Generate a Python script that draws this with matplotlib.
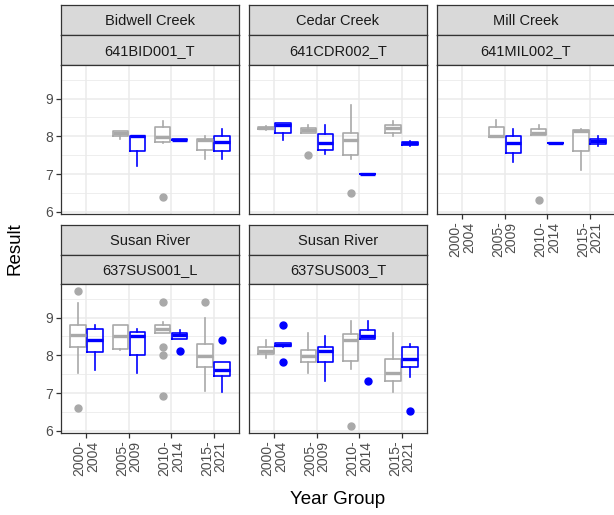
import matplotlib
matplotlib.use("Agg")
import matplotlib.pyplot as plt

plt.rcParams['font.family'] = ['Liberation Sans', 'DejaVu Sans']

year_groups = ['2000-\n2004', '2005-\n2009', '2010-\n2014', '2015-\n2021']
sites = ['Bidwell Creek', 'Cedar Creek', 'Mill Creek', 'Susan River', 'Susan River']
stations = ['641BID001_T', '641CDR002_T', '641MIL002_T', '637SUS001_L', '637SUS003_T']

# box stats per year group: (whislo, q1, med, q3, whishi); None = no samples
bid_grey = [None, (7.93, 8.0, 8.08, 8.13, 8.15), (7.82, 7.84, 7.98, 8.24, 8.4), (7.4, 7.64, 7.9, 7.93, 8.0)]
bid_grey_out = [[], [], [6.4], []]
bid_blue = [None, (7.22, 7.6, 8.0, 8.02, 8.02), (7.9, 7.9, 7.91, 7.92, 7.92), (7.4, 7.6, 7.84, 8.0, 8.2)]
bid_blue_out = [[], [], [], []]

cdr_grey = [(8.18, 8.19, 8.22, 8.25, 8.26), (8.1, 8.1, 8.16, 8.22, 8.29), (7.4, 7.5, 7.91, 8.09, 8.82), (8.02, 8.1, 8.21, 8.31, 8.4)]
cdr_grey_out = [[], [7.5], [6.5], []]
cdr_blue = [(7.91, 8.1, 8.31, 8.34, 8.34), (7.53, 7.64, 7.82, 8.06, 8.31), (7.0, 7.0, 7.0, 7.0, 7.0), (7.75, 7.77, 7.82, 7.86, 7.87)]
cdr_blue_out = [[], [], [], []]

mil_grey = [None, (7.97, 7.97, 8.0, 8.24, 8.42), (8.04, 8.04, 8.09, 8.2, 8.31), (7.11, 7.6, 8.15, 8.18, 8.2)]
mil_grey_out = [[], [], [6.3], []]
mil_blue = [None, (7.31, 7.56, 7.82, 8.02, 8.2), (7.82, 7.82, 7.82, 7.82, 7.82), (7.73, 7.8, 7.87, 7.93, 8.0)]
mil_blue_out = [[], [], [], []]

sus1_grey = [(7.52, 8.23, 8.55, 8.81, 9.39), (8.13, 8.18, 8.51, 8.81, 8.81), (8.6, 8.6, 8.7, 8.79, 8.88), (7.06, 7.7, 7.98, 8.31, 9.0)]
sus1_grey_out = [[9.71, 6.61], [], [9.4, 8.23, 8.0, 6.91], [9.4]]
sus1_blue = [(7.61, 8.1, 8.4, 8.7, 8.81), (7.52, 8.0, 8.51, 8.61, 8.7), (8.44, 8.44, 8.53, 8.6, 8.68), (7.02, 7.46, 7.61, 7.81, 7.81)]
sus1_blue_out = [[], [], [8.11], [8.4]]

sus3_grey = [(7.94, 8.04, 8.11, 8.22, 8.4), (7.52, 7.82, 7.98, 8.13, 8.6), (7.63, 7.85, 8.4, 8.57, 8.9), (7.04, 7.31, 7.52, 7.91, 8.6)]
sus3_grey_out = [[], [], [6.12], []]
sus3_blue = [(8.23, 8.24, 8.28, 8.32, 8.33), (7.32, 7.81, 8.11, 8.22, 8.51), (8.44, 8.44, 8.51, 8.66, 8.9), (7.43, 7.68, 7.91, 8.22, 8.29)]
sus3_blue_out = [[8.81, 7.81], [], [7.31], [6.52]]

panels = [
    (bid_grey, bid_grey_out, bid_blue, bid_blue_out),
    (cdr_grey, cdr_grey_out, cdr_blue, cdr_blue_out),
    (mil_grey, mil_grey_out, mil_blue, mil_blue_out),
    (sus1_grey, sus1_grey_out, sus1_blue, sus1_blue_out),
    (sus3_grey, sus3_grey_out, sus3_blue, sus3_blue_out),
]

GREY = '#A9A9A9'
BLUE = '#0000FF'
EDGE = '#333333'

# y range like ggplot: data range + 5%
allv = []
for p in panels:
    for stats in (p[0], p[2]):
        for s in stats:
            if s:
                allv += list(s)
    for outs in (p[1], p[3]):
        for o in outs:
            allv += o
lo, hi = min(allv), max(allv)
pad = (hi - lo) * 0.05
ylim = (lo - pad, hi + pad)

W, H = 614, 515
fig = plt.figure(figsize=(W / 100, H / 100), dpi=100)


def frac(x0, y0, w, h):
    return [x0 / W, 1 - (y0 + h) / H, w / W, h / H]


col_x = [61, 249, 437]
rows = [(5, 35, 65, 214), (225, 255, 284, 433)]  # strip top, strip mid, panel top, panel bottom
pw = 178


def draw_boxes(ax, stats, outs, offset, color):
    for i, s in enumerate(stats):
        if s is None:
            continue
        d = dict(whislo=s[0], q1=s[1], med=s[2], q3=s[3], whishi=s[4], fliers=outs[i])
        ax.bxp([d], positions=[i + 1 + offset], widths=0.36, showcaps=False,
               patch_artist=False, manage_ticks=False,
               boxprops=dict(color=color, lw=1.2),
               whiskerprops=dict(color=color, lw=1.2),
               medianprops=dict(color=color, lw=2.4, solid_capstyle='butt'),
               flierprops=dict(marker='o', markerfacecolor=color, markeredgecolor=color,
                               markersize=5, linestyle='none'))


for k, (grey, grey_out, blue, blue_out) in enumerate(panels):
    r, c = (0, k) if k < 3 else (1, k - 3)
    st, sm, pt, pb = rows[r]
    x0 = col_x[c]

    # strips
    for (yt, yb, label) in [(st, sm, sites[k]), (sm, pt, stations[k])]:
        sax = fig.add_axes(frac(x0, yt, pw, yb - yt))
        sax.set_facecolor('#D9D9D9')
        sax.set_xticks([])
        sax.set_yticks([])
        for sp in sax.spines.values():
            sp.set_color(EDGE)
            sp.set_linewidth(0.9)
        sax.text(0.5, 0.47, label, ha='center', va='center', fontsize=10.5,
                 color='#1A1A1A', transform=sax.transAxes)

    ax = fig.add_axes(frac(x0, pt, pw, pb - pt))
    ax.set_xlim(0.4, 4.6)
    ax.set_ylim(*ylim)
    ax.set_yticks([6, 7, 8, 9])
    ax.set_yticks([6.5, 7.5, 8.5, 9.5], minor=True)
    ax.set_xticks([1, 2, 3, 4])
    ax.grid(which='major', color='#EBEBEB', lw=1.1)
    ax.grid(which='minor', axis='y', color='#EBEBEB', lw=0.6)
    ax.set_axisbelow(True)
    for sp in ax.spines.values():
        sp.set_color(EDGE)
        sp.set_linewidth(0.9)

    draw_boxes(ax, grey, grey_out, -0.2, GREY)
    draw_boxes(ax, blue, blue_out, 0.2, BLUE)

    ax.tick_params(which='minor', length=0)
    ax.tick_params(which='major', length=3.5, width=0.9, color=EDGE,
                   labelcolor='#4D4D4D', labelsize=10, pad=2)
    if c == 0:
        ax.set_yticklabels(['6', '7', '8', '9'])
    else:
        ax.tick_params(axis='y', length=0, labelleft=False)
    if r == 1 or k == 2:
        ax.set_xticklabels(year_groups, rotation=90, ha='center', va='top',
                           multialignment='right', linespacing=0.95)
    else:
        ax.tick_params(axis='x', length=0, labelbottom=False)

fig.text(338 / W, 1 - 500 / H, 'Year Group', ha='center', va='center', fontsize=13.5)
fig.text(15 / W, 1 - 249 / H, 'Result', ha='center', va='center', fontsize=13.5, rotation=90)

fig.savefig('out.png', dpi=100)
